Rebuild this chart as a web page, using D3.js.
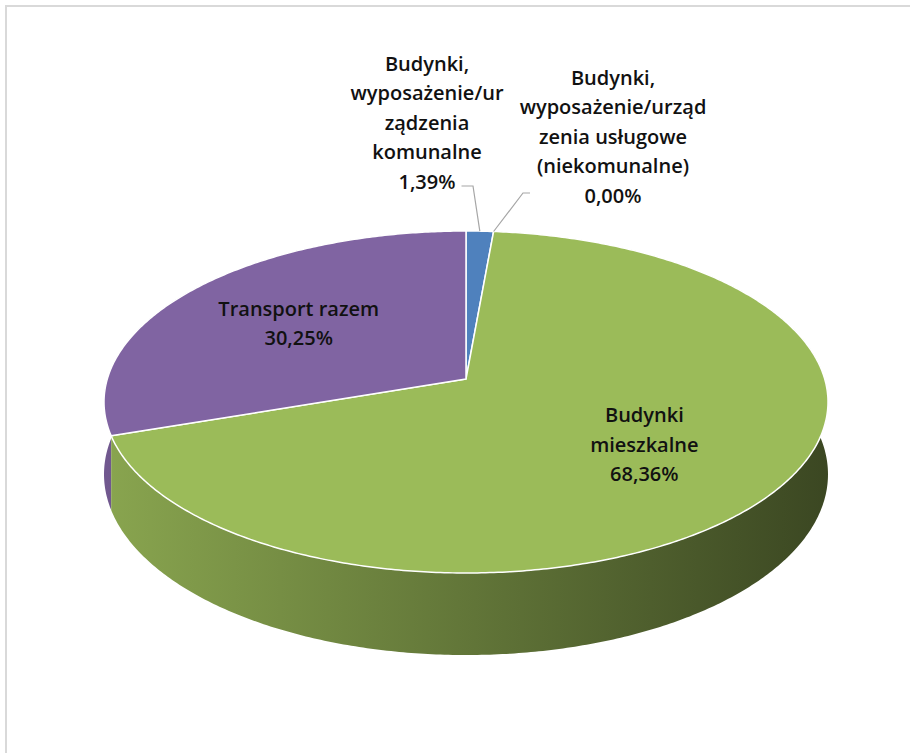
<!DOCTYPE html>
<html>
<head>
<meta charset="utf-8">
<script src="https://cdn.jsdelivr.net/npm/d3@7"></script>
<style>
  body { margin: 0; background: #fff; }
  svg { display: block; }
  text { font-family: "Open Sans", Lato, sans-serif; font-weight: 600; fill: #111; }
</style>
</head>
<body>
<svg id="chart" width="910" height="753"></svg>
<script>
// Emission shares by sector (percent)
const categories = [
  "Budynki, wyposażenie/urządzenia komunalne",
  "Budynki, wyposażenie/urządzenia usługowe (niekomunalne)",
  "Budynki mieszkalne",
  "Transport razem"
];
const values = [1.39, 0.00, 68.36, 30.25];
const percentLabels = ["1,39%", "0,00%", "68,36%", "30,25%"];
const labelLines = [
  ["Budynki,", "wyposażenie/ur", "ządzenia", "komunalne"],
  ["Budynki,", "wyposażenie/urząd", "zenia usługowe", "(niekomunalne)"],
  ["Budynki", "mieszkalne"],
  ["Transport razem"]
];
const sliceColors = ["#4F81BD", "#C0504D", "#9BBB59", "#8064A2"];

const svg = d3.select("#chart");

// chart area frame
svg.append("rect")
  .attr("x", 6).attr("y", 6).attr("width", 930).attr("height", 770)
  .attr("fill", "none").attr("stroke", "#d9d9d9").attr("stroke-width", 2);

// perspective projection of the tilted disc
const cx = 466, cy = 379;      // projected centre of the top face
const sx = 358.7, sy = 167.9;  // radii before perspective division
const k = 0.1345;              // perspective strength
const depth = 71;              // wall height
function proj(theta, r, down) {
  const u = r * Math.sin(theta), v = -r * Math.cos(theta);
  const w = 1 - k * v;
  return [cx + sx * u / w, cy + (sy * v + (down || 0)) / w];
}

const pie = d3.pie().sort(null).value(d => d).startAngle(0).endAngle(2 * Math.PI);
const arcs = pie(values).map((a, i) => ({...a, i}));

function arcPoints(a0, a1, down) {
  const n = Math.max(2, Math.ceil((a1 - a0) / 0.01));
  return d3.range(n + 1).map(j => proj(a0 + (a1 - a0) * j / n, 1, down));
}

const defs = svg.append("defs");
arcs.forEach(a => {
  const base = d3.color(sliceColors[a.i]);
  const g = defs.append("linearGradient")
    .attr("id", "side" + a.i)
    .attr("gradientUnits", "userSpaceOnUse")
    .attr("x1", cx - sx * 1.01).attr("x2", cx + sx * 1.01)
    .attr("y1", 0).attr("y2", 0);
  g.append("stop").attr("offset", 0).attr("stop-color", base.darker(0.35).formatHex());
  g.append("stop").attr("offset", 1).attr("stop-color", base.darker(2.7).formatHex());
});

const line = d3.line();

// outer walls, back to front
const walls = arcs.filter(a => a.endAngle > a.startAngle)
  .sort((p, q) => {
    const f = a => -Math.cos((a.startAngle + a.endAngle) / 2);
    return f(p) - f(q);
  });
svg.append("g").selectAll("path").data(walls).join("path")
  .attr("d", a => {
    const top = arcPoints(a.startAngle, a.endAngle, 0);
    const bot = arcPoints(a.startAngle, a.endAngle, depth).reverse();
    return line(top.concat(bot)) + "Z";
  })
  .attr("fill", a => `url(#side${a.i})`);

// top faces
svg.append("g").selectAll("path").data(arcs.filter(a => a.endAngle > a.startAngle)).join("path")
  .attr("d", a => line([[cx, cy]].concat(arcPoints(a.startAngle, a.endAngle, 0))) + "Z")
  .attr("fill", a => sliceColors[a.i])
  .attr("stroke", "#fff").attr("stroke-width", 1.5).attr("stroke-linejoin", "round");

// label blocks
const lineH = 29.6;
function labelBlock(lines, x, yTop) {
  const g = svg.append("g");
  lines.forEach((t, j) => {
    g.append("text").attr("x", x).attr("y", yTop + j * lineH)
      .attr("text-anchor", "middle").attr("dominant-baseline", "central")
      .attr("font-size", 20).text(t);
  });
}

// labels inside the large slices
[2, 3].forEach(i => {
  const a = arcs[i];
  const [lx, ly] = proj((a.startAngle + a.endAngle) / 2, 0.6, 0);
  const lines = labelLines[i].concat([percentLabels[i]]);
  labelBlock(lines, lx, ly - (lines.length - 1) * lineH / 2);
});

// labels outside the small slices, with leader lines
const outside = [
  {i: 0, x: 427, yTop: 63, lead: [[461.5, 186], [473, 186]], at: a => (a.startAngle + a.endAngle) / 2},
  {i: 1, x: 613, yTop: 77, lead: [[530, 193], [523, 193]], at: a => a.startAngle}
];
outside.forEach(o => {
  const a = arcs[o.i];
  labelBlock(labelLines[o.i].concat([percentLabels[o.i]]), o.x, o.yTop);
  const end = proj(o.at(a), 1, 0);
  svg.append("path")
    .attr("d", line(o.lead.concat([end])))
    .attr("fill", "none").attr("stroke", "#a6a6a6").attr("stroke-width", 1.2);
});
</script>
</body>
</html>
